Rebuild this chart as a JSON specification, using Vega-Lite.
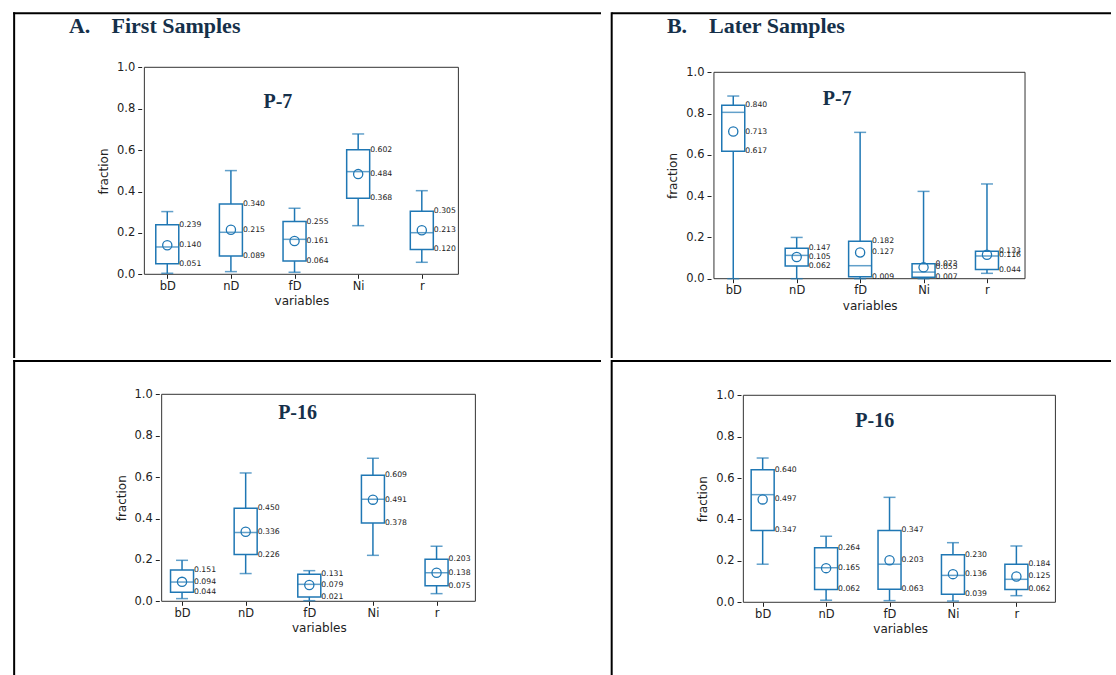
{
  "$schema": "https://vega.github.io/schema/vega-lite/v6.json",
  "padding": 0,
  "background": "white",
  "spacing": 0,
  "datasets": {
    "stats": [
      {"panel": "A1", "var": "bD", "i": 1, "lo": 0.005, "q1": 0.051, "med": 0.132, "mean": 0.140, "q3": 0.239, "hi": 0.303},
      {"panel": "A1", "var": "nD", "i": 2, "lo": 0.013, "q1": 0.089, "med": 0.203, "mean": 0.215, "q3": 0.340, "hi": 0.501},
      {"panel": "A1", "var": "fD", "i": 3, "lo": 0.010, "q1": 0.064, "med": 0.169, "mean": 0.161, "q3": 0.255, "hi": 0.319},
      {"panel": "A1", "var": "Ni", "i": 4, "lo": 0.235, "q1": 0.368, "med": 0.496, "mean": 0.484, "q3": 0.602, "hi": 0.678},
      {"panel": "A1", "var": "r", "i": 5, "lo": 0.058, "q1": 0.120, "med": 0.201, "mean": 0.213, "q3": 0.305, "hi": 0.404},
      {"panel": "B1", "var": "bD", "i": 1, "lo": 0.0, "q1": 0.617, "med": 0.806, "mean": 0.713, "q3": 0.840, "hi": 0.885},
      {"panel": "B1", "var": "nD", "i": 2, "lo": 0.0, "q1": 0.062, "med": 0.113, "mean": 0.105, "q3": 0.147, "hi": 0.200},
      {"panel": "B1", "var": "fD", "i": 3, "lo": 0.0, "q1": 0.009, "med": 0.063, "mean": 0.127, "q3": 0.182, "hi": 0.709},
      {"panel": "B1", "var": "Ni", "i": 4, "lo": 0.0, "q1": 0.007, "med": 0.032, "mean": 0.055, "q3": 0.073, "hi": 0.423},
      {"panel": "B1", "var": "r", "i": 5, "lo": 0.026, "q1": 0.044, "med": 0.110, "mean": 0.116, "q3": 0.133, "hi": 0.459},
      {"panel": "A2", "var": "bD", "i": 1, "lo": 0.013, "q1": 0.044, "med": 0.093, "mean": 0.094, "q3": 0.151, "hi": 0.198},
      {"panel": "A2", "var": "nD", "i": 2, "lo": 0.134, "q1": 0.226, "med": 0.332, "mean": 0.336, "q3": 0.450, "hi": 0.620},
      {"panel": "A2", "var": "fD", "i": 3, "lo": 0.003, "q1": 0.021, "med": 0.082, "mean": 0.079, "q3": 0.131, "hi": 0.148},
      {"panel": "A2", "var": "Ni", "i": 4, "lo": 0.222, "q1": 0.378, "med": 0.493, "mean": 0.491, "q3": 0.609, "hi": 0.691},
      {"panel": "A2", "var": "r", "i": 5, "lo": 0.037, "q1": 0.075, "med": 0.138, "mean": 0.138, "q3": 0.203, "hi": 0.266},
      {"panel": "B2", "var": "bD", "i": 1, "lo": 0.184, "q1": 0.347, "med": 0.520, "mean": 0.497, "q3": 0.640, "hi": 0.697},
      {"panel": "B2", "var": "nD", "i": 2, "lo": 0.010, "q1": 0.062, "med": 0.167, "mean": 0.165, "q3": 0.264, "hi": 0.319},
      {"panel": "B2", "var": "fD", "i": 3, "lo": 0.008, "q1": 0.063, "med": 0.184, "mean": 0.203, "q3": 0.347, "hi": 0.507},
      {"panel": "B2", "var": "Ni", "i": 4, "lo": 0.006, "q1": 0.039, "med": 0.130, "mean": 0.136, "q3": 0.230, "hi": 0.288},
      {"panel": "B2", "var": "r", "i": 5, "lo": 0.032, "q1": 0.062, "med": 0.111, "mean": 0.125, "q3": 0.184, "hi": 0.272}
    ]
  },
  "vconcat": [
    {
      "spacing": 0,
      "bounds": "flush",
      "hconcat": [
        {
          "width": 606,
          "height": 358,
          "layer": [
            {
              "data": {"values": [{}]},
              "layer": [
                {"mark": {"type": "rect", "filled": false, "color": "#333333", "strokeWidth": 1},
                 "encoding": {"x": {"datum": 0.640, "type": "quantitative"}, "x2": {"datum": 5.575}, "y": {"datum": 0, "type": "quantitative"}, "y2": {"datum": 1}}},
                {"mark": {"type": "rule", "color": "#000000", "strokeWidth": 2},
                 "encoding": {"x": {"datum": -1.4219, "type": "quantitative"}, "x2": {"datum": 7.8161}, "y": {"datum": 1.2609, "type": "quantitative"}}},
                {"mark": {"type": "rule", "color": "#000000", "strokeWidth": 2},
                 "encoding": {"x": {"datum": -1.4065, "type": "quantitative"}, "y": {"datum": 1.2657, "type": "quantitative"}, "y2": {"datum": -0.4043}}},
                {"mark": {"type": "text", "text": "A.", "font": "Liberation Serif", "fontWeight": "bold", "fontSize": 22, "color": "#15304a", "align": "left", "baseline": "alphabetic"},
                 "encoding": {"x": {"datum": -0.5456, "type": "quantitative"}, "y": {"datum": 1.1671, "type": "quantitative"}}},
                {"mark": {"type": "text", "text": "First Samples", "font": "Liberation Serif", "fontWeight": "bold", "fontSize": 22, "color": "#15304a", "align": "left", "baseline": "alphabetic"},
                 "encoding": {"x": {"datum": 0.1236, "type": "quantitative"}, "y": {"datum": 1.1671, "type": "quantitative"}}},
                {"mark": {"type": "text", "text": "P-7", "font": "Liberation Serif", "fontWeight": "bold", "fontSize": 20, "color": "#15304a", "align": "center", "baseline": "alphabetic"},
                 "encoding": {"x": {"datum": 2.739, "type": "quantitative"}, "y": {"datum": 0.802, "type": "quantitative"}}}
              ]
            },
            {
              "data": {"name": "stats"},
              "transform": [{"filter": "datum.panel === 'A1'"}],
              "layer": [
                {"mark": {"type": "bar", "width": 23, "filled": false, "color": "#1f77b4", "strokeWidth": 1.5},
                 "encoding": {
                   "x": {"field": "i", "type": "quantitative", "scale": {"domain": [-1.5502, 7.8161], "nice": false, "zero": false},
                         "axis": {"values": [1, 2, 3, 4, 5], "labelExpr": "['','bD','nD','fD','Ni','r'][datum.value]", "offset": -83.7, "title": "variables", "titleX": 301.4}},
                   "y": {"field": "q1", "type": "quantitative", "scale": {"domain": [-0.4043, 1.3251], "nice": false, "zero": false},
                         "axis": {"values": [0, 0.2, 0.4, 0.6, 0.8, 1], "format": ".1f", "offset": -141.7, "title": "fraction", "titleY": 171}},
                   "y2": {"field": "q3"}}},
                {"mark": {"type": "rule", "color": "#1f77b4", "strokeWidth": 1.5},
                 "encoding": {"x": {"field": "i", "type": "quantitative", "title": "variables"}, "y": {"field": "lo", "type": "quantitative", "title": "fraction"}, "y2": {"field": "q1"}}},
                {"mark": {"type": "rule", "color": "#1f77b4", "strokeWidth": 1.5},
                 "encoding": {"x": {"field": "i", "type": "quantitative", "title": "variables"}, "y": {"field": "q3", "type": "quantitative", "title": "fraction"}, "y2": {"field": "hi"}}},
                {"mark": {"type": "tick", "orient": "horizontal", "size": 12, "thickness": 1.5, "color": "#1f77b4"},
                 "encoding": {"x": {"field": "i", "type": "quantitative", "title": "variables"}, "y": {"field": "lo", "type": "quantitative", "title": "fraction"}}},
                {"mark": {"type": "tick", "orient": "horizontal", "size": 12, "thickness": 1.5, "color": "#1f77b4"},
                 "encoding": {"x": {"field": "i", "type": "quantitative", "title": "variables"}, "y": {"field": "hi", "type": "quantitative", "title": "fraction"}}},
                {"mark": {"type": "tick", "orient": "horizontal", "size": 23, "thickness": 1.5, "color": "#1f77b4"},
                 "encoding": {"x": {"field": "i", "type": "quantitative", "title": "variables"}, "y": {"field": "med", "type": "quantitative", "title": "fraction"}}},
                {"mark": {"type": "point", "shape": "circle", "filled": false, "size": 85, "strokeWidth": 1.3, "color": "#1f77b4", "opacity": 1},
                 "encoding": {"x": {"field": "i", "type": "quantitative", "title": "variables"}, "y": {"field": "mean", "type": "quantitative", "title": "fraction"}}},
                {"mark": {"type": "text", "align": "left", "baseline": "middle", "dx": 12, "font": "DejaVu Sans", "fontSize": 7.7, "color": "#222222"},
                 "encoding": {"x": {"field": "i", "type": "quantitative", "title": "variables"}, "y": {"field": "q3", "type": "quantitative", "title": "fraction"}, "text": {"field": "q3", "type": "quantitative", "format": ".3f"}}},
                {"mark": {"type": "text", "align": "left", "baseline": "middle", "dx": 12, "font": "DejaVu Sans", "fontSize": 7.7, "color": "#222222"},
                 "encoding": {"x": {"field": "i", "type": "quantitative", "title": "variables"}, "y": {"field": "mean", "type": "quantitative", "title": "fraction"}, "text": {"field": "mean", "type": "quantitative", "format": ".3f"}}},
                {"mark": {"type": "text", "align": "left", "baseline": "middle", "dx": 12, "font": "DejaVu Sans", "fontSize": 7.7, "color": "#222222"},
                 "encoding": {"x": {"field": "i", "type": "quantitative", "title": "variables"}, "y": {"field": "q1", "type": "quantitative", "title": "fraction"}, "text": {"field": "q1", "type": "quantitative", "format": ".3f"}}}
              ]
            }
          ]
        },
        {
          "width": 510,
          "height": 358,
          "layer": [
            {
              "data": {"values": [{}]},
              "layer": [
                {"mark": {"type": "rect", "filled": false, "color": "#333333", "strokeWidth": 1},
                 "encoding": {"x": {"datum": 0.6955, "type": "quantitative"}, "x2": {"datum": 5.5997}, "y": {"datum": 0, "type": "quantitative"}, "y2": {"datum": 1}}},
                {"mark": {"type": "rule", "color": "#000000", "strokeWidth": 2},
                 "encoding": {"x": {"datum": -0.9165, "type": "quantitative"}, "x2": {"datum": 6.9552}, "y": {"datum": 1.2859, "type": "quantitative"}}},
                {"mark": {"type": "rule", "color": "#000000", "strokeWidth": 2},
                 "encoding": {"x": {"datum": -0.9165, "type": "quantitative"}, "y": {"datum": 1.2907, "type": "quantitative"}, "y2": {"datum": -0.3842}}},
                {"mark": {"type": "text", "text": "B.", "font": "Liberation Serif", "fontWeight": "bold", "fontSize": 22, "color": "#15304a", "align": "left", "baseline": "alphabetic"},
                 "encoding": {"x": {"datum": -0.0464, "type": "quantitative"}, "y": {"datum": 1.1919, "type": "quantitative"}}},
                {"mark": {"type": "text", "text": "Later Samples", "font": "Liberation Serif", "fontWeight": "bold", "fontSize": 22, "color": "#15304a", "align": "left", "baseline": "alphabetic"},
                 "encoding": {"x": {"datum": 0.6182, "type": "quantitative"}, "y": {"datum": 1.1919, "type": "quantitative"}}},
                {"mark": {"type": "text", "text": "P-7", "font": "Liberation Serif", "fontWeight": "bold", "fontSize": 20, "color": "#15304a", "align": "center", "baseline": "alphabetic"},
                 "encoding": {"x": {"datum": 2.638, "type": "quantitative"}, "y": {"datum": 0.8416, "type": "quantitative"}}}
              ]
            },
            {
              "data": {"name": "stats"},
              "transform": [{"filter": "datum.panel === 'B1'"}],
              "layer": [
                {"mark": {"type": "bar", "width": 23, "filled": false, "color": "#1f77b4", "strokeWidth": 1.5},
                 "encoding": {
                   "x": {"field": "i", "type": "quantitative", "scale": {"domain": [-0.9274, 6.9552], "nice": false, "zero": false},
                         "axis": {"values": [1, 2, 3, 4, 5], "labelExpr": "['','bD','nD','fD','Ni','r'][datum.value]", "offset": -79.3, "title": "variables", "titleX": 263.7}},
                   "y": {"field": "q1", "type": "quantitative", "scale": {"domain": [-0.3842, 1.3503], "nice": false, "zero": false},
                         "axis": {"values": [0, 0.2, 0.4, 0.6, 0.8, 1], "format": ".1f", "offset": -105, "title": "fraction", "titleY": 175.5}},
                   "y2": {"field": "q3"}}},
                {"mark": {"type": "rule", "color": "#1f77b4", "strokeWidth": 1.5},
                 "encoding": {"x": {"field": "i", "type": "quantitative", "title": "variables"}, "y": {"field": "lo", "type": "quantitative", "title": "fraction"}, "y2": {"field": "q1"}}},
                {"mark": {"type": "rule", "color": "#1f77b4", "strokeWidth": 1.5},
                 "encoding": {"x": {"field": "i", "type": "quantitative", "title": "variables"}, "y": {"field": "q3", "type": "quantitative", "title": "fraction"}, "y2": {"field": "hi"}}},
                {"mark": {"type": "tick", "orient": "horizontal", "size": 12, "thickness": 1.5, "color": "#1f77b4"},
                 "encoding": {"x": {"field": "i", "type": "quantitative", "title": "variables"}, "y": {"field": "lo", "type": "quantitative", "title": "fraction"}}},
                {"mark": {"type": "tick", "orient": "horizontal", "size": 12, "thickness": 1.5, "color": "#1f77b4"},
                 "encoding": {"x": {"field": "i", "type": "quantitative", "title": "variables"}, "y": {"field": "hi", "type": "quantitative", "title": "fraction"}}},
                {"mark": {"type": "tick", "orient": "horizontal", "size": 23, "thickness": 1.5, "color": "#1f77b4"},
                 "encoding": {"x": {"field": "i", "type": "quantitative", "title": "variables"}, "y": {"field": "med", "type": "quantitative", "title": "fraction"}}},
                {"mark": {"type": "point", "shape": "circle", "filled": false, "size": 85, "strokeWidth": 1.3, "color": "#1f77b4", "opacity": 1},
                 "encoding": {"x": {"field": "i", "type": "quantitative", "title": "variables"}, "y": {"field": "mean", "type": "quantitative", "title": "fraction"}}},
                {"mark": {"type": "text", "align": "left", "baseline": "middle", "dx": 12, "font": "DejaVu Sans", "fontSize": 7.7, "color": "#222222"},
                 "encoding": {"x": {"field": "i", "type": "quantitative", "title": "variables"}, "y": {"field": "q3", "type": "quantitative", "title": "fraction"}, "text": {"field": "q3", "type": "quantitative", "format": ".3f"}}},
                {"mark": {"type": "text", "align": "left", "baseline": "middle", "dx": 12, "font": "DejaVu Sans", "fontSize": 7.7, "color": "#222222"},
                 "encoding": {"x": {"field": "i", "type": "quantitative", "title": "variables"}, "y": {"field": "mean", "type": "quantitative", "title": "fraction"}, "text": {"field": "mean", "type": "quantitative", "format": ".3f"}}},
                {"mark": {"type": "text", "align": "left", "baseline": "middle", "dx": 12, "font": "DejaVu Sans", "fontSize": 7.7, "color": "#222222"},
                 "encoding": {"x": {"field": "i", "type": "quantitative", "title": "variables"}, "y": {"field": "q1", "type": "quantitative", "title": "fraction"}, "text": {"field": "q1", "type": "quantitative", "format": ".3f"}}}
              ]
            }
          ]
        }
      ]
    },
    {
      "spacing": 0,
      "bounds": "flush",
      "hconcat": [
        {
          "width": 606,
          "height": 317,
          "layer": [
            {
              "data": {"values": [{}]},
              "layer": [
                {"mark": {"type": "rect", "filled": false, "color": "#333333", "strokeWidth": 1},
                 "encoding": {"x": {"datum": 0.680, "type": "quantitative"}, "x2": {"datum": 5.610}, "y": {"datum": 0, "type": "quantitative"}, "y2": {"datum": 1}}},
                {"mark": {"type": "rule", "color": "#000000", "strokeWidth": 2},
                 "encoding": {"x": {"datum": -1.6538, "type": "quantitative"}, "x2": {"datum": 7.5842}, "y": {"datum": 1.1609, "type": "quantitative"}}},
                {"mark": {"type": "rule", "color": "#000000", "strokeWidth": 2},
                 "encoding": {"x": {"datum": -1.6383, "type": "quantitative"}, "y": {"datum": 1.1657, "type": "quantitative"}, "y2": {"datum": -0.3657}}},
                {"mark": {"type": "text", "text": "P-16", "font": "Liberation Serif", "fontWeight": "bold", "fontSize": 20, "color": "#15304a", "align": "center", "baseline": "alphabetic"},
                 "encoding": {"x": {"datum": 2.816, "type": "quantitative"}, "y": {"datum": 0.879, "type": "quantitative"}}}
              ]
            },
            {
              "data": {"name": "stats"},
              "transform": [{"filter": "datum.panel === 'A2'"}],
              "layer": [
                {"mark": {"type": "bar", "width": 23, "filled": false, "color": "#1f77b4", "strokeWidth": 1.5},
                 "encoding": {
                   "x": {"field": "i", "type": "quantitative", "scale": {"domain": [-1.7821, 7.5842], "nice": false, "zero": false},
                         "axis": {"values": [1, 2, 3, 4, 5], "labelExpr": "['','bD','nD','fD','Ni','r'][datum.value]", "offset": -75.7, "title": "variables", "titleX": 318.8}},
                   "y": {"field": "q1", "type": "quantitative", "scale": {"domain": [-0.3657, 1.1657], "nice": false, "zero": false},
                         "axis": {"values": [0, 0.2, 0.4, 0.6, 0.8, 1], "format": ".1f", "offset": -159.3, "title": "fraction", "titleY": 137.8}},
                   "y2": {"field": "q3"}}},
                {"mark": {"type": "rule", "color": "#1f77b4", "strokeWidth": 1.5},
                 "encoding": {"x": {"field": "i", "type": "quantitative", "title": "variables"}, "y": {"field": "lo", "type": "quantitative", "title": "fraction"}, "y2": {"field": "q1"}}},
                {"mark": {"type": "rule", "color": "#1f77b4", "strokeWidth": 1.5},
                 "encoding": {"x": {"field": "i", "type": "quantitative", "title": "variables"}, "y": {"field": "q3", "type": "quantitative", "title": "fraction"}, "y2": {"field": "hi"}}},
                {"mark": {"type": "tick", "orient": "horizontal", "size": 12, "thickness": 1.5, "color": "#1f77b4"},
                 "encoding": {"x": {"field": "i", "type": "quantitative", "title": "variables"}, "y": {"field": "lo", "type": "quantitative", "title": "fraction"}}},
                {"mark": {"type": "tick", "orient": "horizontal", "size": 12, "thickness": 1.5, "color": "#1f77b4"},
                 "encoding": {"x": {"field": "i", "type": "quantitative", "title": "variables"}, "y": {"field": "hi", "type": "quantitative", "title": "fraction"}}},
                {"mark": {"type": "tick", "orient": "horizontal", "size": 23, "thickness": 1.5, "color": "#1f77b4"},
                 "encoding": {"x": {"field": "i", "type": "quantitative", "title": "variables"}, "y": {"field": "med", "type": "quantitative", "title": "fraction"}}},
                {"mark": {"type": "point", "shape": "circle", "filled": false, "size": 85, "strokeWidth": 1.3, "color": "#1f77b4", "opacity": 1},
                 "encoding": {"x": {"field": "i", "type": "quantitative", "title": "variables"}, "y": {"field": "mean", "type": "quantitative", "title": "fraction"}}},
                {"mark": {"type": "text", "align": "left", "baseline": "middle", "dx": 12, "font": "DejaVu Sans", "fontSize": 7.7, "color": "#222222"},
                 "encoding": {"x": {"field": "i", "type": "quantitative", "title": "variables"}, "y": {"field": "q3", "type": "quantitative", "title": "fraction"}, "text": {"field": "q3", "type": "quantitative", "format": ".3f"}}},
                {"mark": {"type": "text", "align": "left", "baseline": "middle", "dx": 12, "font": "DejaVu Sans", "fontSize": 7.7, "color": "#222222"},
                 "encoding": {"x": {"field": "i", "type": "quantitative", "title": "variables"}, "y": {"field": "mean", "type": "quantitative", "title": "fraction"}, "text": {"field": "mean", "type": "quantitative", "format": ".3f"}}},
                {"mark": {"type": "text", "align": "left", "baseline": "middle", "dx": 12, "font": "DejaVu Sans", "fontSize": 7.7, "color": "#222222"},
                 "encoding": {"x": {"field": "i", "type": "quantitative", "title": "variables"}, "y": {"field": "q1", "type": "quantitative", "title": "fraction"}, "text": {"field": "q1", "type": "quantitative", "format": ".3f"}}}
              ]
            }
          ]
        },
        {
          "width": 510,
          "height": 317,
          "layer": [
            {
              "data": {"values": [{}]},
              "layer": [
                {"mark": {"type": "rect", "filled": false, "color": "#333333", "strokeWidth": 1},
                 "encoding": {"x": {"datum": 0.6955, "type": "quantitative"}, "x2": {"datum": 5.6151}, "y": {"datum": 0, "type": "quantitative"}, "y2": {"datum": 1}}},
                {"mark": {"type": "rule", "color": "#000000", "strokeWidth": 2},
                 "encoding": {"x": {"datum": -1.3802, "type": "quantitative"}, "x2": {"datum": 6.4915}, "y": {"datum": 1.1657, "type": "quantitative"}}},
                {"mark": {"type": "rule", "color": "#000000", "strokeWidth": 2},
                 "encoding": {"x": {"datum": -1.3802, "type": "quantitative"}, "y": {"datum": 1.1705, "type": "quantitative"}, "y2": {"datum": -0.3609}}},
                {"mark": {"type": "text", "text": "P-16", "font": "Liberation Serif", "fontWeight": "bold", "fontSize": 20, "color": "#15304a", "align": "center", "baseline": "alphabetic"},
                 "encoding": {"x": {"datum": 2.767, "type": "quantitative"}, "y": {"datum": 0.847, "type": "quantitative"}}}
              ]
            },
            {
              "data": {"name": "stats"},
              "transform": [{"filter": "datum.panel === 'B2'"}],
              "layer": [
                {"mark": {"type": "bar", "width": 23, "filled": false, "color": "#1f77b4", "strokeWidth": 1.5},
                 "encoding": {
                   "x": {"field": "i", "type": "quantitative", "scale": {"domain": [-1.3910, 6.4915], "nice": false, "zero": false},
                         "axis": {"values": [1, 2, 3, 4, 5], "labelExpr": "['','bD','nD','fD','Ni','r'][datum.value]", "offset": -74.7, "title": "variables", "titleX": 294.2}},
                   "y": {"field": "q1", "type": "quantitative", "scale": {"domain": [-0.3609, 1.1705], "nice": false, "zero": false},
                         "axis": {"values": [0, 0.2, 0.4, 0.6, 0.8, 1], "format": ".1f", "offset": -135, "title": "fraction", "titleY": 138.8}},
                   "y2": {"field": "q3"}}},
                {"mark": {"type": "rule", "color": "#1f77b4", "strokeWidth": 1.5},
                 "encoding": {"x": {"field": "i", "type": "quantitative", "title": "variables"}, "y": {"field": "lo", "type": "quantitative", "title": "fraction"}, "y2": {"field": "q1"}}},
                {"mark": {"type": "rule", "color": "#1f77b4", "strokeWidth": 1.5},
                 "encoding": {"x": {"field": "i", "type": "quantitative", "title": "variables"}, "y": {"field": "q3", "type": "quantitative", "title": "fraction"}, "y2": {"field": "hi"}}},
                {"mark": {"type": "tick", "orient": "horizontal", "size": 12, "thickness": 1.5, "color": "#1f77b4"},
                 "encoding": {"x": {"field": "i", "type": "quantitative", "title": "variables"}, "y": {"field": "lo", "type": "quantitative", "title": "fraction"}}},
                {"mark": {"type": "tick", "orient": "horizontal", "size": 12, "thickness": 1.5, "color": "#1f77b4"},
                 "encoding": {"x": {"field": "i", "type": "quantitative", "title": "variables"}, "y": {"field": "hi", "type": "quantitative", "title": "fraction"}}},
                {"mark": {"type": "tick", "orient": "horizontal", "size": 23, "thickness": 1.5, "color": "#1f77b4"},
                 "encoding": {"x": {"field": "i", "type": "quantitative", "title": "variables"}, "y": {"field": "med", "type": "quantitative", "title": "fraction"}}},
                {"mark": {"type": "point", "shape": "circle", "filled": false, "size": 85, "strokeWidth": 1.3, "color": "#1f77b4", "opacity": 1},
                 "encoding": {"x": {"field": "i", "type": "quantitative", "title": "variables"}, "y": {"field": "mean", "type": "quantitative", "title": "fraction"}}},
                {"mark": {"type": "text", "align": "left", "baseline": "middle", "dx": 12, "font": "DejaVu Sans", "fontSize": 7.7, "color": "#222222"},
                 "encoding": {"x": {"field": "i", "type": "quantitative", "title": "variables"}, "y": {"field": "q3", "type": "quantitative", "title": "fraction"}, "text": {"field": "q3", "type": "quantitative", "format": ".3f"}}},
                {"mark": {"type": "text", "align": "left", "baseline": "middle", "dx": 12, "font": "DejaVu Sans", "fontSize": 7.7, "color": "#222222"},
                 "encoding": {"x": {"field": "i", "type": "quantitative", "title": "variables"}, "y": {"field": "mean", "type": "quantitative", "title": "fraction"}, "text": {"field": "mean", "type": "quantitative", "format": ".3f"}}},
                {"mark": {"type": "text", "align": "left", "baseline": "middle", "dx": 12, "font": "DejaVu Sans", "fontSize": 7.7, "color": "#222222"},
                 "encoding": {"x": {"field": "i", "type": "quantitative", "title": "variables"}, "y": {"field": "q1", "type": "quantitative", "title": "fraction"}, "text": {"field": "q1", "type": "quantitative", "format": ".3f"}}}
              ]
            }
          ]
        }
      ]
    }
  ],
  "config": {
    "view": {"stroke": null},
    "axis": {
      "domain": false, "grid": false, "tickSize": 4, "tickColor": "#222222", "tickWidth": 1,
      "labelFont": "DejaVu Sans", "labelFontSize": 11.5, "labelColor": "#222222", "labelPadding": 2,
      "titleFont": "DejaVu Sans", "titleFontSize": 12, "titleFontWeight": "normal", "titleColor": "#222222", "titlePadding": 4
    },
    "axisY": {"labelPadding": 3, "titlePadding": 6}
  }
}
